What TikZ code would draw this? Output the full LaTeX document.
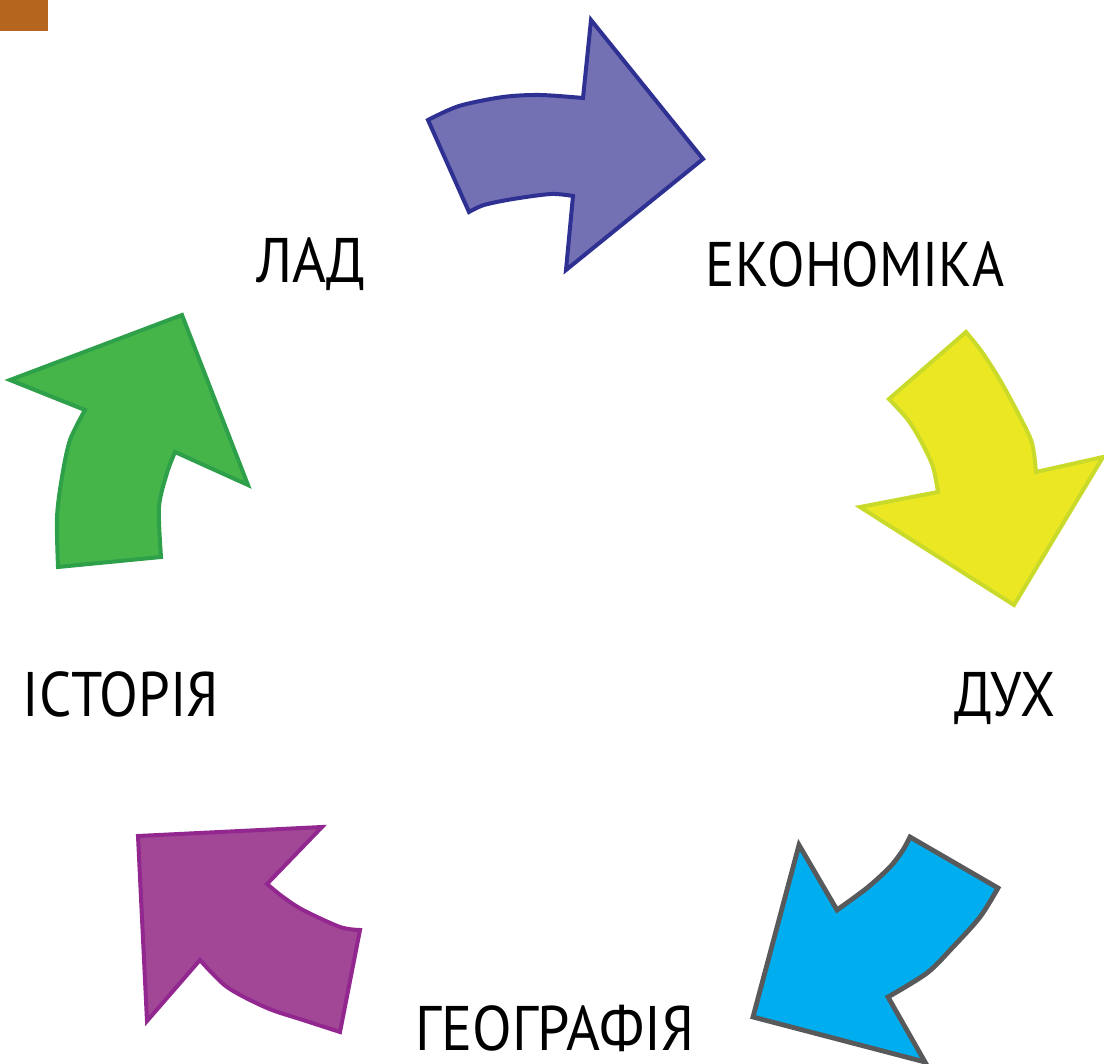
\documentclass[tikz,border=0pt]{standalone}
\usepackage{fontspec}
\usepackage{graphicx}
\setmainfont{PT Sans}
\definecolor{sqorange}{HTML}{B5651D}
\definecolor{vfill}{HTML}{7470B4}
\definecolor{vline}{HTML}{2E3192}
\definecolor{yfill}{HTML}{EBE823}
\definecolor{yline}{HTML}{C9DA2A}
\definecolor{bfill}{HTML}{00AEEF}
\definecolor{bline}{HTML}{58595B}
\definecolor{mfill}{HTML}{A24795}
\definecolor{mline}{HTML}{92278F}
\definecolor{gfill}{HTML}{46B549}
\definecolor{gline}{HTML}{2EA04A}
\newcommand\hsqz[2]{\scalebox{#1}[1]{#2}}
\tikzset{
  arr/.style={line width=2pt, line join=miter},
  lbl/.style={font=\fontsize{31.5}{36}\selectfont, anchor=base, inner sep=0pt}
}
\begin{document}
\begin{tikzpicture}[x=0.5pt,y=-0.5pt]
\useasboundingbox (0,0) rectangle (1104,1064);
\fill[sqorange] (0,0) rectangle (48,31);
% violet arrow (top)
\filldraw[arr, fill=vfill, draw=vline]
  plot[smooth] coordinates {(428,120) (459,106) (503,97) (540,95) (583,98)}
  -- (591,20) -- (703,159) -- (566,270) -- (573,196)
  -- plot[smooth] coordinates {(573,196) (551,194) (513,199) (484,205) (469,212)}
  -- cycle;
% yellow arrow (right)
\filldraw[arr, fill=yfill, draw=yline]
  (966,332) -- (889,399)
  -- plot[smooth] coordinates {(889,399) (908,420) (922,443) (933,467) (938,492)}
  -- (860,507) -- (1014,605) -- (1103,457) -- (1036,472)
  -- plot[smooth] coordinates {(1036,472) (1032,443) (1020,417) (1000,380) (982,352) (966,332)}
  -- cycle;
% blue arrow (bottom right)
\filldraw[arr, line width=2.4pt, fill=bfill, draw=bline]
  (910,837) -- (998,888)
  -- plot[smooth] coordinates {(998,888) (980,917) (953,947) (927,973) (888,997)}
  -- (925,1062) -- (753,1017) -- (799,845) -- (837,910)
  -- plot[smooth] coordinates {(837,910) (867,888) (890,867) (903,850) (910,837)}
  -- cycle;
% magenta arrow (bottom left)
\filldraw[arr, fill=mfill, draw=mline]
  (138,836) -- (322,827) -- (267,884)
  -- plot[smooth] coordinates {(267,884) (283,897) (303,910) (340,927) (360,930)}
  -- (340,1032)
  -- plot[smooth] coordinates {(340,1032) (303,1020) (267,1008) (227,987) (200,960)}
  -- (147,1021) -- cycle;
% green arrow (left)
\filldraw[arr, fill=gfill, draw=gline]
  plot[smooth] coordinates {(58,567) (57,517) (62,477) (70,440) (85,410)}
  -- (10,380) -- (182,315) -- (248,485) -- (175,452)
  -- plot[smooth] coordinates {(175,452) (167,473) (159,507) (161,557)}
  -- cycle;
% labels
\node[lbl] (lad) at (311,283) {\hsqz{0.92}{ЛАД}};
\node[lbl] (ekon) at (855,287) {\hsqz{0.87}{ЕКОНОМІКА}};
\node[lbl] (dukh) at (1005,716) {\hsqz{0.9}{ДУХ}};
\node[lbl] (ist) at (121,716) {\hsqz{0.9}{ІСТОРІЯ}};
\node[lbl] (geo) at (555,1050) {\hsqz{0.92}{ГЕОГРАФІЯ}};
\end{tikzpicture}
\end{document}
